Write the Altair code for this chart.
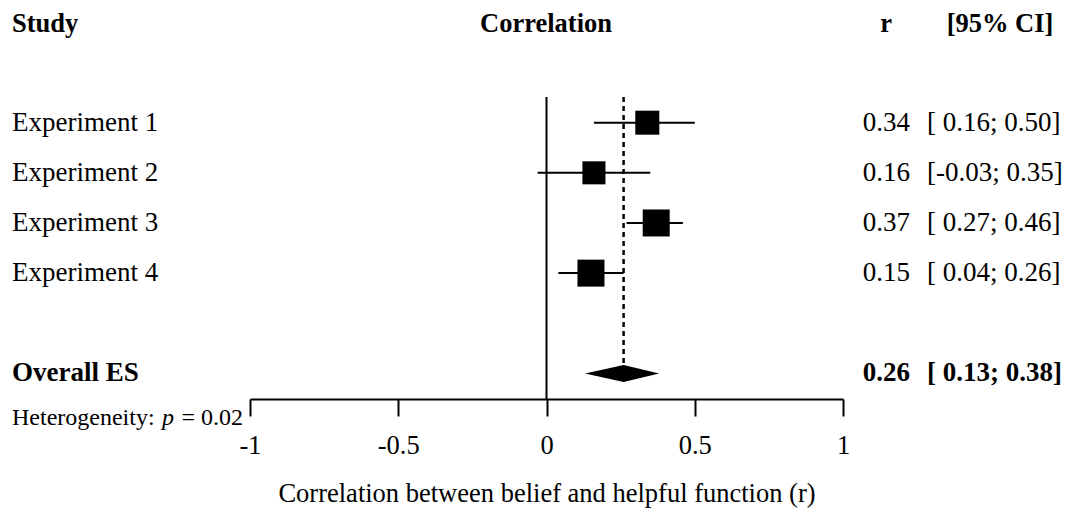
import altair as alt
import pandas as pd

# Study-level correlations with 95% confidence intervals
studies = ["Experiment 1", "Experiment 2", "Experiment 3", "Experiment 4"]
r_est = [0.34, 0.16, 0.37, 0.15]
ci_lo = [0.16, -0.03, 0.27, 0.04]
ci_hi = [0.50, 0.35, 0.46, 0.26]
weights = [22.5, 20.7, 28.4, 28.4]  # random-effects weights (%)

# Pooled estimate
pooled_label = "Overall ES"
pooled_r = 0.26
pooled_lo = 0.13
pooled_hi = 0.38
het_p = 0.02

x_ticks = [-1, -0.5, 0, 0.5, 1]
x_title = "Correlation between belief and helpful function (r)"

FONT = "Liberation Serif"
FS = 27
NBSP = "\u00a0"


def ci_text(lo, hi):
    return f"[{lo:5.2f}; {hi:.2f}]".replace(" ", NBSP)


n = len(studies)
pooled_row = n + 2
rows = list(range(1, n + 1))
y_top = 1 - 0.512
y_bottom = pooled_row + 0.51

studies_df = pd.DataFrame({
    "study": studies,
    "row": rows,
    "r": r_est,
    "lo": ci_lo,
    "hi": ci_hi,
    "w": weights,
    "r_txt": [f"{v:.2f}" for v in r_est],
    "ci_txt": [ci_text(a, b) for a, b in zip(ci_lo, ci_hi)],
})

pooled_df = pd.DataFrame({
    "study": [pooled_label],
    "row": [pooled_row],
    "top": [y_top],
    "r": [pooled_r],
    "lo": [pooled_lo],
    "hi": [pooled_hi],
    "r_txt": [f"{pooled_r:.2f}"],
    "ci_txt": [ci_text(pooled_lo, pooled_hi)],
})

# Diamond outline for the pooled estimate (half height in row units)
half_h = 0.17
diamond_df = pd.DataFrame({
    "x": [pooled_lo, pooled_r, pooled_hi],
    "y": [pooled_row, pooled_row - half_h, pooled_row],
    "y2": [pooled_row, pooled_row + half_h, pooled_row],
})

x_scale = alt.Scale(domain=[-1, 1], nice=False, zero=False)
y_scale = alt.Scale(domain=[y_top, y_bottom], reverse=True, nice=False, zero=False)

x_axis = alt.Axis(
    values=x_ticks, labelExpr="'' + datum.value", grid=False,
    domainColor="black", domainWidth=2, tickColor="black", tickWidth=2,
    tickSize=17, labelFont=FONT, labelFontSize=26.5, labelColor="black",
    labelPadding=16, labelFlush=False, titleFont=FONT, titleFontSize=26.5,
    titleFontWeight="normal", titleColor="black", titlePadding=22,
    title=x_title,
)

base = alt.Chart(studies_df)

zero_line = alt.Chart(pd.DataFrame({"x": [0]})).mark_rule(
    color="black", strokeWidth=2
).encode(x=alt.X("x:Q", scale=x_scale, axis=x_axis))

pooled_line = alt.Chart(pooled_df).mark_rule(
    color="black", strokeWidth=2.5, strokeDash=[5, 4]
).encode(
    x=alt.X("r:Q", scale=x_scale),
    y=alt.Y("top:Q", scale=y_scale, axis=None),
    y2="row:Q",
)

ci_rules = base.mark_rule(color="black", strokeWidth=2).encode(
    x=alt.X("lo:Q", scale=x_scale),
    x2="hi:Q",
    y=alt.Y("row:Q", scale=y_scale, axis=None),
)

squares = base.mark_square(color="black", filled=True, opacity=1).encode(
    x=alt.X("r:Q", scale=x_scale),
    y=alt.Y("row:Q", scale=y_scale, axis=None),
    size=alt.Size("w:Q", scale=alt.Scale(domain=[0, 30], range=[0, 770]),
                  legend=None),
)

diamond = alt.Chart(diamond_df).mark_area(color="black", opacity=1).encode(
    x=alt.X("x:Q", scale=x_scale),
    y=alt.Y("y:Q", scale=y_scale, axis=None),
    y2="y2:Q",
)

text_kw = dict(font=FONT, fontSize=FS, color="black", baseline="middle")

study_labels = base.mark_text(align="left", **text_kw).encode(
    x=alt.value(-238), y=alt.Y("row:Q", scale=y_scale), text="study:N")
r_labels = base.mark_text(align="right", **text_kw).encode(
    x=alt.value(660), y=alt.Y("row:Q", scale=y_scale), text="r_txt:N")
ci_labels = base.mark_text(align="left", **text_kw).encode(
    x=alt.value(677), y=alt.Y("row:Q", scale=y_scale), text="ci_txt:N")

pooled_base = alt.Chart(pooled_df)
pooled_name = pooled_base.mark_text(align="left", fontWeight="bold", **text_kw).encode(
    x=alt.value(-238), y=alt.Y("row:Q", scale=y_scale), text="study:N")
pooled_r_txt = pooled_base.mark_text(align="right", fontWeight="bold", **text_kw).encode(
    x=alt.value(660), y=alt.Y("row:Q", scale=y_scale), text="r_txt:N")
pooled_ci_txt = pooled_base.mark_text(align="left", fontWeight="bold", **text_kw).encode(
    x=alt.value(677), y=alt.Y("row:Q", scale=y_scale), text="ci_txt:N")

# Column headers
header_labels = ["Study", "Correlation", "r", "[95% CI]"]
header_px = [-238, 296, 636, 750]
header_align = ["left", "center", "center", "center"]
header_layers = [
    alt.Chart(pd.DataFrame({"label": [lab]})).mark_text(
        align=al, fontWeight="bold", font=FONT, fontSize=26.5, color="black",
        baseline="middle"
    ).encode(x=alt.value(px), y=alt.value(-73), text="label:N")
    for lab, px, al in zip(header_labels, header_px, header_align)
]

# Heterogeneity note
het_kw = dict(font=FONT, fontSize=24, color="black", baseline="middle")
het_df = pd.DataFrame({"a": ["Heterogeneity:"], "b": ["p"], "c": [f"= {het_p:.2f}"]})
het_a = alt.Chart(het_df).mark_text(align="left", **het_kw).encode(
    x=alt.value(-238), y=alt.value(321), text="a:N")
het_b = alt.Chart(het_df).mark_text(align="left", fontStyle="italic", **het_kw).encode(
    x=alt.value(-88), y=alt.value(321), text="b:N")
het_c = alt.Chart(het_df).mark_text(align="right", **het_kw).encode(
    x=alt.value(-7), y=alt.value(321), text="c:N")

chart = alt.layer(
    zero_line, pooled_line, ci_rules, squares, diamond,
    study_labels, r_labels, ci_labels,
    pooled_name, pooled_r_txt, pooled_ci_txt,
    *header_layers, het_a, het_b, het_c,
).properties(
    width=593, height=302,
    autosize=alt.AutoSizeParams(type="none"),
    padding={"left": 250, "top": 97, "right": 230, "bottom": 116},
    background="white",
).configure_view(stroke=None)

chart.save("out.html", embed_options={"renderer": "svg", "actions": False})
